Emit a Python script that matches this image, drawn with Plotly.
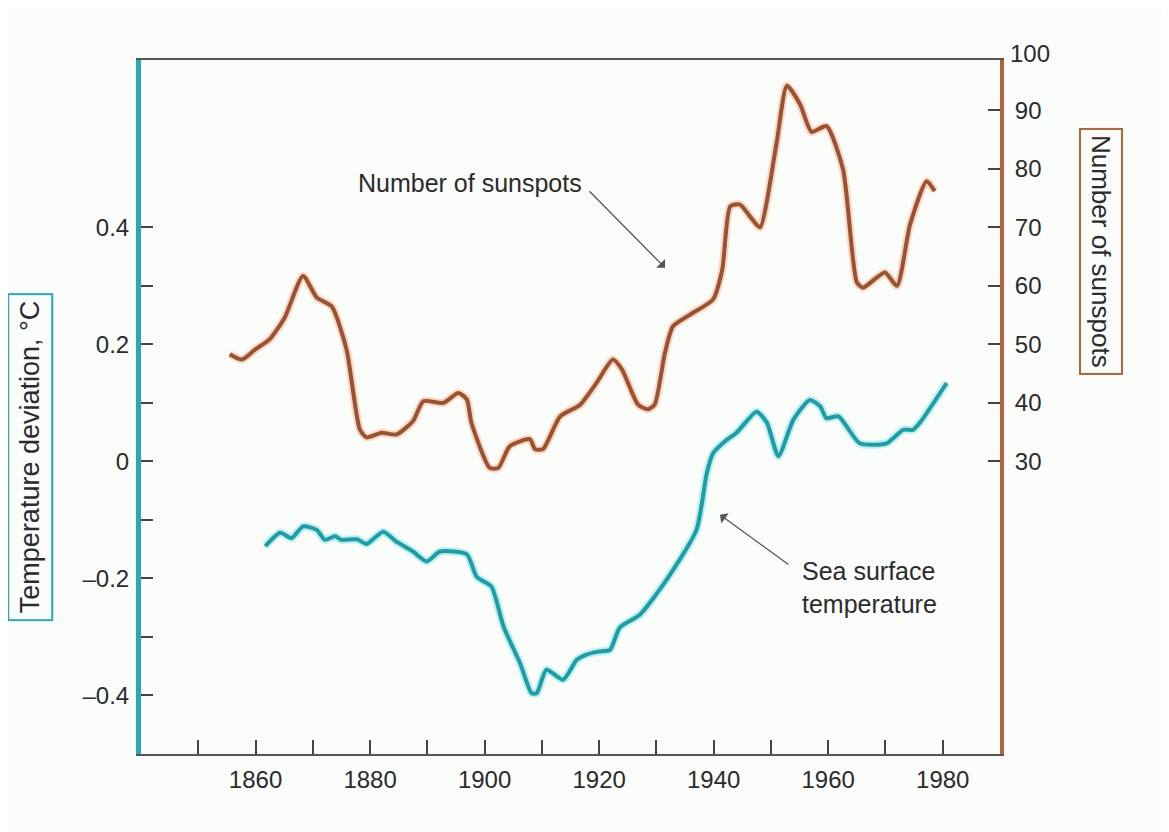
import plotly.graph_objects as go

# ---- data ----
sun_years = [1855.5, 1857.6, 1859.9, 1862.5, 1865.1, 1868.3, 1870.7, 1873.3, 1875.9, 1878.2,
             1879.4, 1882.0, 1884.6, 1887.5, 1889.3, 1892.8, 1895.4, 1896.9, 1897.7, 1900.9,
             1902.4, 1904.4, 1907.9, 1908.8, 1910.2, 1913.2, 1916.7, 1919.6, 1922.4, 1924.0,
             1926.8, 1928.5, 1929.7, 1931.5, 1932.9, 1935.9, 1939.9, 1941.5, 1942.9, 1944.6,
             1946.7, 1948.1, 1951.0, 1952.8, 1955.1, 1957.1, 1959.7, 1962.6, 1965.0, 1966.1,
             1969.9, 1972.0, 1974.3, 1977.2, 1978.6]
sunspots = [48.3, 47.4, 49.1, 50.9, 54.6, 61.7, 58.0, 56.5, 49.1, 35.5,
            34.1, 34.9, 34.6, 36.9, 40.3, 40.0, 41.7, 40.6, 36.6, 28.9,
            28.9, 32.6, 33.8, 32.1, 32.1, 37.7, 39.7, 43.5, 47.4, 45.7,
            39.7, 38.9, 39.7, 48.6, 53.1, 55.1, 57.7, 62.8, 73.6, 73.9,
            71.4, 70.0, 84.5, 94.2, 91.0, 86.3, 87.3, 79.9, 60.6, 59.7,
            62.3, 60.0, 70.5, 77.9, 76.2]

sst_years = [1861.7, 1864.3, 1866.3, 1868.3, 1870.7, 1872.1, 1873.9, 1875.0, 1877.7, 1879.4,
             1882.3, 1884.6, 1887.5, 1889.9, 1892.2, 1896.9, 1898.6, 1901.2, 1903.3, 1906.2,
             1908.2, 1909.1, 1910.8, 1913.7, 1916.1, 1917.8, 1919.9, 1921.9, 1923.6, 1927.1,
             1931.8, 1937.0, 1938.8, 1939.9, 1942.3, 1944.0, 1947.5, 1949.3, 1951.3, 1953.9,
             1956.8, 1958.6, 1959.7, 1961.8, 1965.5, 1970.2, 1973.1, 1974.8, 1976.0, 1980.7]
sst_dev = [-0.145, -0.122, -0.131, -0.111, -0.117, -0.134, -0.128, -0.134, -0.133, -0.141,
           -0.120, -0.137, -0.154, -0.171, -0.154, -0.159, -0.197, -0.214, -0.282, -0.345,
           -0.396, -0.396, -0.356, -0.373, -0.339, -0.330, -0.325, -0.322, -0.284, -0.262,
           -0.202, -0.117, -0.020, 0.014, 0.037, 0.049, 0.085, 0.066, 0.009, 0.071,
           0.105, 0.094, 0.074, 0.077, 0.031, 0.031, 0.054, 0.054, 0.066, 0.134]

x_ticks = [1850, 1860, 1870, 1880, 1890, 1900, 1910, 1920, 1930, 1940, 1950, 1960, 1970, 1980]
x_labels = ["", "1860", "", "1880", "", "1900", "", "1920", "", "1940", "", "1960", "", "1980"]
left_ticks = [-0.4, -0.3, -0.2, -0.1, 0, 0.1, 0.2, 0.3, 0.4]
left_labels = ["–0.4", "", "–0.2", "", "0", "", "0.2", "", "0.4"]
right_ticks = [30, 40, 50, 60, 70, 80, 90]
right_labels = ["30", "40", "50", "60", "70", "80", "90"]

CYAN = "#1c9ea6"
CYAN_AX = "#2aa9b1"
BROWN = "#9a5230"
BROWN_AX = "#b4643a"
TXT = "#2b2b2b"
FONT = "Liberation Sans"

fig = go.Figure()
fig.add_trace(go.Scatter(x=sst_years, y=sst_dev, mode="lines",
                         line=dict(color="rgba(120,220,225,0.45)", width=8, shape="spline", smoothing=0.6),
                         hoverinfo="skip", showlegend=False))
fig.add_trace(go.Scatter(x=sst_years, y=sst_dev, mode="lines",
                         line=dict(color=CYAN, width=4, shape="spline", smoothing=0.6),
                         name="Sea surface temperature", showlegend=False))
fig.add_trace(go.Scatter(x=sun_years, y=sunspots, mode="lines", yaxis="y2",
                         line=dict(color="rgba(240,170,130,0.45)", width=8, shape="spline", smoothing=0.6),
                         hoverinfo="skip", showlegend=False))
fig.add_trace(go.Scatter(x=sun_years, y=sunspots, mode="lines", yaxis="y2",
                         line=dict(color=BROWN, width=4, shape="spline", smoothing=0.6),
                         name="Number of sunspots", showlegend=False))

fig.update_layout(
    width=1161, height=824,
    margin=dict(l=133, r=169, t=52, b=78),
    paper_bgcolor="#fafcfa", plot_bgcolor="#fafcfa",
    font=dict(family=FONT, size=24, color=TXT),
    xaxis=dict(range=[1840, 1990], tickvals=x_ticks, ticktext=x_labels,
               ticks="inside", ticklen=14, tickwidth=2, tickcolor="#444",
               showline=True, linecolor="#555", linewidth=2, mirror=True,
               showgrid=False, zeroline=False, ticklabelstandoff=3),
    yaxis=dict(range=[-0.5, 0.686], tickvals=left_ticks, ticktext=left_labels,
               ticks="inside", ticklen=12, tickwidth=2, tickcolor="#444",
               showline=True, linecolor=CYAN_AX, linewidth=5,
               showgrid=False, zeroline=False, ticklabelstandoff=2),
    yaxis2=dict(range=[-20, 98.6], tickvals=right_ticks, ticktext=right_labels,
                overlaying="y", side="right",
                ticks="inside", ticklen=12, tickwidth=2, tickcolor="#444",
                showline=True, linecolor=BROWN_AX, linewidth=4,
                showgrid=False, zeroline=False, ticklabelstandoff=6),
)

annotations = [
    # "100" label at top of right axis
    dict(text="100", xref="paper", yref="paper", x=1, y=1, xanchor="left", yanchor="middle",
         xshift=8, yshift=7, showarrow=False, font=dict(size=24, color=TXT)),
    # axis title boxes
    dict(text="Temperature deviation, °C", xref="paper", yref="paper", x=-0.129, y=0.428,
         xanchor="center", yanchor="middle",
         textangle=-90, showarrow=False, bordercolor=CYAN_AX, borderwidth=2, borderpad=6,
         font=dict(size=27, color=TXT)),
    dict(text="Number of sunspots", xref="paper", yref="paper", x=1.1176, y=0.7248,
         xanchor="center", yanchor="middle",
         textangle=90, showarrow=False, bordercolor=BROWN_AX, borderwidth=2, borderpad=5,
         font=dict(size=26, color=TXT)),
    # curve labels
    dict(text="Number of sunspots", x=1897.4, y=0.476, xref="x", yref="y",
         showarrow=False, font=dict(size=25, color=TXT)),
    dict(text="", x=1931.5, y=0.331, xref="x", yref="y", ax=-77, ay=-78,
         showarrow=True, arrowhead=1, arrowsize=1.6, arrowwidth=1.3, arrowcolor="#555"),
    dict(text="Sea surface<br>temperature", x=1955.1, y=-0.216, xref="x", yref="y",
         xanchor="left", align="left", showarrow=False, font=dict(size=25, color=TXT)),
    dict(text="", x=1941.1, y=-0.091, xref="x", yref="y", ax=70, ay=51,
         showarrow=True, arrowhead=1, arrowsize=1.6, arrowwidth=1.3, arrowcolor="#555"),
]
fig.update_layout(annotations=annotations)

fig.write_html("out.html")
